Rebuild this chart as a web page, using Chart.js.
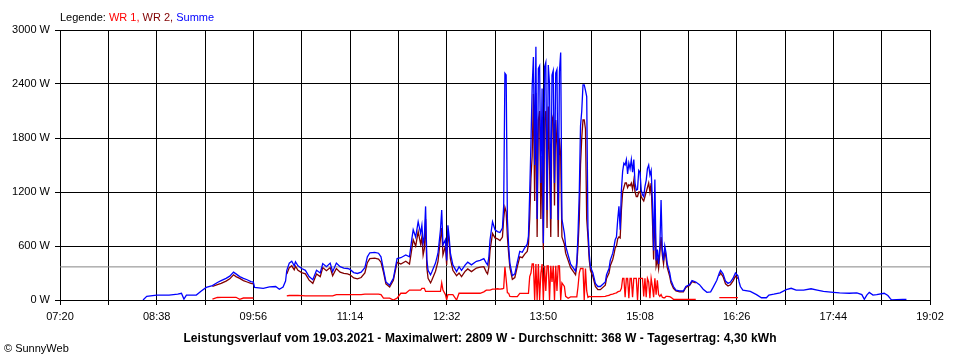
<!DOCTYPE html>
<html>
<head>
<meta charset="utf-8">
<script src="https://cdn.jsdelivr.net/npm/chart.js@4.4.1/dist/chart.umd.min.js"></script>
<style>
  body { margin: 0; background: #fff; }
  #wrap { position: relative; width: 960px; height: 360px; font-family: "Liberation Sans", Arial, sans-serif; }
  #legend { position: absolute; left: 60px; top: 11px; font-size: 11px; color: #000; white-space: nowrap; }
  #title { position: absolute; left: 0; width: 960px; top: 331px; text-align: center; font-size: 12px; font-weight: bold; letter-spacing: 0.1px; white-space: nowrap; }
  #copy { position: absolute; left: 4px; top: 342px; font-size: 11px; white-space: nowrap; }
</style>
</head>
<body>
<div id="wrap">
  <canvas id="chart" width="960" height="360"></canvas>
  <div id="legend">Legende: <span style="color:#ff0000">WR 1,</span> <span style="color:#800000">WR 2,</span> <span style="color:#0000ff">Summe</span></div>
  <div id="title">Leistungsverlauf vom 19.03.2021 - Maximalwert: 2809 W - Durchschnitt: 368 W - Tagesertrag: 4,30 kWh</div>
  <div id="copy">© SunnyWeb</div>
</div>
<script>
// time of day in minutes since midnight (07:20 = 440)
const times = [
  507, 510, 518, 528, 535, 538, 540, 542, 550, 554, 558, 563, 567, 570, 574, 577, 580, 582, 585, 588,
  591, 594, 596, 597, 604, 609, 614, 617, 620, 622, 623, 625, 627, 629, 630, 632, 635, 638, 641, 644,
  647, 650, 652, 655, 658, 660, 663, 666, 669, 672, 674, 677, 680, 683, 686, 688, 690, 694, 697, 699,
  701, 703, 706, 709, 712, 715, 719, 722, 724, 725, 727, 729, 731, 732, 733, 734, 735, 736, 737, 739,
  740, 743, 745, 747, 748, 749, 751, 752, 753, 754, 755, 757, 760, 762, 764, 767, 769, 772, 776, 779,
  782, 784, 785, 786, 787, 789, 791, 793, 795, 797, 798, 799, 800, 801, 802, 803, 805, 807, 809, 811,
  813, 815, 817, 818, 819, 820, 821, 822, 823, 824, 825, 826, 827, 828, 829, 830, 831, 832, 833, 834,
  835, 836, 837, 838, 839, 840, 841, 842, 843, 844, 845, 847, 848, 850, 852, 854, 856, 857, 858, 859,
  860, 861, 862, 863, 864, 865, 866, 867, 868, 870, 872, 874, 876, 880, 881, 883, 884, 886, 887, 888,
  889, 890, 891, 892, 893, 894, 895, 896, 897, 898, 899, 900, 901, 902, 903, 904, 905, 906, 907, 908,
  909, 910, 911, 912, 913, 914, 915, 916, 917, 918, 919, 920, 921, 922, 923, 924, 925, 926, 927, 928,
  929, 930, 932, 933, 935, 937, 940, 943, 945, 948, 950, 953, 956, 959, 962, 965, 967, 970, 972, 973,
  975, 977, 979, 981, 983, 985, 987, 988, 989, 991, 997, 1002, 1006, 1010, 1012, 1016, 1021, 1026, 1030, 1034,
  1040, 1046, 1051, 1056, 1064, 1069, 1077, 1083, 1087, 1089, 1091, 1093, 1096, 1099, 1105, 1108, 1110, 1111, 1115, 1120,
  1123
];

// Summe (W)
const summe = [
  0, 40, 55, 55, 65, 75, 10, 55, 55, 100, 140, 160, 195, 215, 240, 265, 310, 290, 260, 240,
  225, 205, 200, 140, 130, 145, 150, 120, 145, 210, 330, 410, 430, 380, 425, 380, 350, 330, 260, 225,
  330, 300, 405, 370, 410, 315, 410, 370, 355, 350, 340, 305, 295, 310, 360, 480, 525, 530, 520, 480,
  340, 200, 165, 240, 460, 470, 500, 480, 690, 780, 700, 870, 740, 830, 630, 700, 1040, 450, 330, 280,
  310, 410, 520, 780, 1000, 610, 670, 440, 830, 700, 520, 390, 315, 370, 330, 390, 420, 390, 430, 440,
  460, 410, 390, 470, 670, 870, 780, 760, 750, 800, 1040, 2520, 2500, 900, 600, 410, 270, 290, 420, 540,
  530, 580, 620, 710, 1190, 1740, 2370, 2700, 1500, 2815, 900, 2570, 2600, 1300, 2350, 630, 2590, 2640, 1000, 2610,
  2400, 900, 2500, 2550, 1300, 2520, 2560, 890, 2540, 2750, 900, 740, 600, 500, 400, 360, 320, 420, 740, 1190,
  1930, 2100, 2390, 2390, 2330, 2260, 800, 520, 370, 300, 185, 150, 150, 200, 280, 350, 440, 520, 590, 670,
  700, 890, 1040, 780, 1220, 1430, 1520, 1500, 1560, 1400, 1520, 1460, 1560, 1420, 1560, 1300, 1220, 1230, 1440, 1420,
  1220, 1170, 1150, 1260, 1330, 1460, 1500, 1390, 1440, 1100, 550, 1340, 440, 560, 400, 590, 1110, 560, 440, 600,
  520, 400, 300, 220, 150, 110, 100, 100, 150, 170, 215, 200, 170, 120, 85, 90, 140, 220, 300, 330,
  290, 210, 185, 200, 240, 300, 270, 200, 150, 110, 95, 60, 25, 25, 55, 65, 80, 115, 130, 110,
  110, 125, 110, 95, 85, 80, 75, 80, 60, 8, 55, 85, 55, 60, 75, 50, 15, 0, 5, 8,
  8
];

// WR 2 (W), null where it lies hidden under Summe
const wr2 = [
  null, null, null, null, null, null, null, null, null, null, null, 150, 170, 185, 210, 235, 280, 260, 240, 215,
  200, 185, 180, null, null, null, null, null, null, null, 290, 360, 380, 335, 375, 330, 305, 290, 220, 185,
  290, 260, 360, 325, 360, 270, 350, 310, 295, 290, 280, 245, 235, 250, 300, 415, 460, 465, 455, 420,
  310, 180, 145, 220, 420, 400, 430, 400, 580, 670, 600, 760, 620, 700, 500, 570, 900, 360, 240, 190,
  220, 320, 430, 680, 800, 500, 600, 390, 760, 640, 460, 330, 270, 300, 260, 320, 345, 315, 355, 365,
  370, 310, 290, 360, 550, 740, 690, 680, 660, 700, 900, 1030, 980, 700, 520, 360, 230, 250, 370, 480,
  470, 510, 540, 620, 900, 1350, 1600, 2290, 1100, 2300, 700, 2000, 2100, 900, 1600, 560, 2000, 2100, 800, 2150,
  1500, 700, 2000, 2050, 1050, 2000, 1700, 700, 1800, 1600, 700, 620, 520, 440, 360, 320, 280, 380, 600, 900,
  1500, 1800, 2000, 2000, 1900, 900, 700, 450, 330, 260, 150, 115, 115, 165, 240, 300, 380, 450, 510, 580,
  600, 680, 700, 690, 1000, 1200, 1250, 1300, 1300, 1250, 1280, 1270, 1300, 1230, 1330, 1200, 1150, 1150, 1200, 1200,
  1150, 1120, 1100, 1150, 1200, 1250, 1300, 1200, 1300, 900, 450, 1000, 380, 450, 350, 520, 700, 500, 400, 550,
  470, 360, 260, 190, 130, 100, 90, 90, 140, 160, 205, 190, null, null, null, null, null, null, 270, 300,
  260, 180, 155, 170, 210, 265, 240, null, null, null, null, null, null, null, null, null, null, null, null, null,
  null, null, null, null, null, null, null, null, null, null, null, null, null, null, null, null, null, null, null, null,
  null
];

// WR 1 (W), null where no value is drawn
const wr1 = [
  null, null, null, null, null, null, null, null, null, null, null, 10, 28, 30, 30, 30, 30, 30, 8, 22,
  22, 22, 22, null, null, null, null, null, null, null, 45, 50, 50, 50, 50, 50, 48, 45, 45, 45,
  45, 45, 45, 45, 45, 45, 60, 60, 60, 60, 60, 60, 60, 60, 65, 65, 65, 65, 65, 60,
  20, 20, 20, 0, 20, 75, 75, 110, 110, 110, 110, 110, 110, 130, 130, 130, 95, 95, 95, 95,
  95, 95, 95, 95, 190, 110, 60, 0, 60, 60, 60, 60, 0, 75, 75, 75, 75, 75, 75, 75,
  90, 110, 110, 110, 110, 120, 120, 125, 120, 125, 130, 370, 230, 80, 75, 40, 37, 37, 37, 74,
  74, 74, 74, 74, 260, 300, 400, 400, 0, 400, 0, 400, 0, 300, 400, 0, 380, 100, 380, 380,
  0, 380, 200, 380, 0, 380, 100, 380, 380, 0, 190, 150, 40, 20, 35, 35, 35, 35, 150, 300,
  350, 350, 350, 0, 350, 100, 30, 40, 37, 37, 37, 37, 37, 40, 45, 50, 60, 65, 70, 75,
  80, 90, 95, 100, 130, 240, 240, 30, 240, 240, 20, 240, 240, 30, 240, 240, 240, 0, 240, 240,
  240, 240, 40, 240, 30, 240, 200, 20, 240, 150, 30, 240, 60, 220, 60, 40, 60, 30, 25, 25,
  40, 40, 37, 30, 8, 8, 8, 8, 8, 8, 8, 8, null, null, null, null, null, null, 26, 26,
  26, 26, 26, 26, 26, 26, 26, null, null, null, null, null, null, null, null, null, null, null, null, null,
  null, null, null, null, null, null, null, null, null, null, null, null, null, null, null, null, null, null, null, null,
  null
];

const average = 368;

// axis: 07:20 .. 19:02, grid every 39 min, label every 78 min
const xStart = 440;
const xEnd = 1142;
const xGridStep = 39;
const xLabels = ['07:20', '08:38', '09:56', '11:14', '12:32', '13:50', '15:08', '16:26', '17:44', '19:02'];
const yTicks = [0, 600, 1200, 1800, 2400, 3000];

function toPoints(values) {
  return times.map((t, i) => ({ x: t, y: values[i] }));
}

Chart.defaults.font.family = '"Liberation Sans", Arial, sans-serif';
Chart.defaults.font.size = 11;
Chart.defaults.color = '#000';

const lineStyle = { pointRadius: 0, borderWidth: 1.3, tension: 0, spanGaps: false, fill: false };

new Chart('chart', {
  type: 'line',
  data: {
    datasets: [
      Object.assign({ label: 'Summe', data: toPoints(summe), borderColor: '#0000ff', order: 0 }, lineStyle),
      Object.assign({ label: 'WR 2', data: toPoints(wr2), borderColor: '#800000', order: 1 }, lineStyle),
      Object.assign({ label: 'WR 1', data: toPoints(wr1), borderColor: '#ff0000', order: 2 }, lineStyle),
      Object.assign({ label: 'Durchschnitt', data: [{ x: xStart, y: average }, { x: xEnd, y: average }], borderColor: '#858585', order: 3 }, lineStyle, { borderWidth: 1 })
    ]
  },
  options: {
    responsive: false,
    animation: false,
    events: [],
    layout: { padding: { top: 30, right: 30, left: 0, bottom: 0 } },
    plugins: { legend: { display: false }, tooltip: { enabled: false } },
    scales: {
      x: {
        type: 'linear',
        min: xStart,
        max: xEnd,
        afterBuildTicks: axis => {
          const ticks = [];
          for (let v = xStart; v <= xEnd; v += xGridStep) ticks.push({ value: v });
          axis.ticks = ticks;
        },
        afterFit: axis => { axis.height = 60; },
        grid: { color: '#000', lineWidth: 1, tickLength: 5 },
        border: { color: '#000' },
        ticks: {
          autoSkip: false,
          maxRotation: 0,
          padding: 5,
          callback: (v, i) => (i % 2 === 0 ? xLabels[i / 2] : '')
        }
      },
      y: {
        min: 0,
        max: 3000,
        afterBuildTicks: axis => { axis.ticks = yTicks.map(v => ({ value: v })); },
        afterFit: axis => { axis.width = 60; },
        grid: { color: '#000', lineWidth: 1, tickLength: 5 },
        border: { color: '#000' },
        ticks: { padding: 5, callback: v => v + ' W' }
      }
    }
  }
});
</script>
</body>
</html>
